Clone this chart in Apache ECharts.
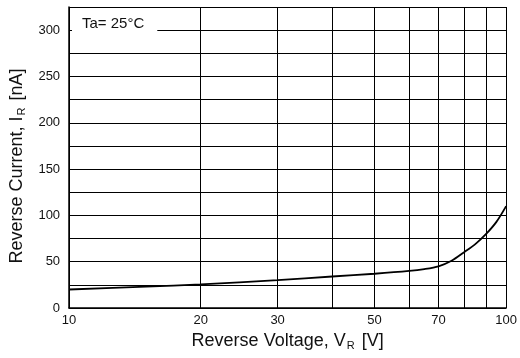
<!DOCTYPE html>
<html><head><meta charset="utf-8">
<script src="https://cdn.jsdelivr.net/npm/echarts@6/dist/echarts.min.js"></script>
<style>html,body{margin:0;padding:0;background:#fff}#c{width:520px;height:358px}</style>
</head><body><div id="c"></div>
<script>
const voltages = [10, 15, 20, 30, 40, 50, 60, 65, 70, 75, 80, 85, 90, 95, 100];
const currents = [20, 23, 25.5, 30, 34, 37, 40, 42, 45, 51, 60, 69, 80, 93, 110];
const xGridValues = [10, 20, 30, 40, 50, 60, 70, 80, 90, 100];
const xTickLabels = [10, 20, 30, 50, 70, 100];
const yTickLabels = [0, 50, 100, 150, 200, 250, 300];

const FONT = 'Liberation Sans, Arial, sans-serif';
const chart = echarts.init(document.getElementById('c'), null, {renderer: 'canvas'});
chart.setOption({
  animation: false,
  backgroundColor: '#fff',
  grid: {left: 67, right: 12, top: 7, bottom: 50, containLabel: false},
  xAxis: {
    type: 'value', min: 1, max: 2,
    name: 'Reverse Voltage, V{sub|R} [V]',
    nameLocation: 'middle', nameGap: 22,
    nameTextStyle: {fontFamily: FONT, fontSize: 18, color: '#111',
      rich: {sub: {fontFamily: FONT, fontSize: 11, color: '#111', padding: [10, 2, 0, 1]}}},
    axisLine: {show: true, onZero: false, lineStyle: {color: '#000', width: 1.5}},
    axisTick: {show: false, customValues: xGridValues.map(v => Math.log10(v))},
    axisLabel: {customValues: xTickLabels.map(v => Math.log10(v)), formatter: v => String(Math.round(Math.pow(10, v))),
      fontFamily: FONT, fontSize: 13, color: '#111', margin: 6},
    splitLine: {show: true, lineStyle: {color: '#000', width: 1}}
  },
  yAxis: {
    type: 'value', min: 0, max: 325, interval: 25,
    name: 'Reverse Current, I{sub|R} [nA]',
    nameLocation: 'middle', nameGap: 36,
    nameTextStyle: {fontFamily: FONT, fontSize: 18, color: '#111', padding: [0, 17, 0, 0],
      rich: {sub: {fontFamily: FONT, fontSize: 11, color: '#111', padding: [10, 2, 0, 1]}}},
    axisLine: {show: true, lineStyle: {color: '#000', width: 1.5}},
    axisTick: {show: false},
    axisLabel: {formatter: v => (yTickLabels.includes(v) ? String(v) : ''),
      fontFamily: FONT, fontSize: 13, color: '#111', margin: 9},
    splitLine: {show: true, lineStyle: {color: '#000', width: 1}}
  },
  graphic: [{
    type: 'text', left: 72, top: 13, z: 100,
    style: {text: 'Ta= 25°C', font: '15px Liberation Sans, Arial, sans-serif', fill: '#111',
      backgroundColor: '#fff', padding: [3, 13, 3, 10]}
  }],
  series: [{
    type: 'line',
    data: voltages.map((v, i) => [Math.log10(v), currents[i]]),
    smooth: 0.3, showSymbol: false, symbol: 'none',
    lineStyle: {color: '#000', width: 1.8}
  }]
});
</script></body></html>
